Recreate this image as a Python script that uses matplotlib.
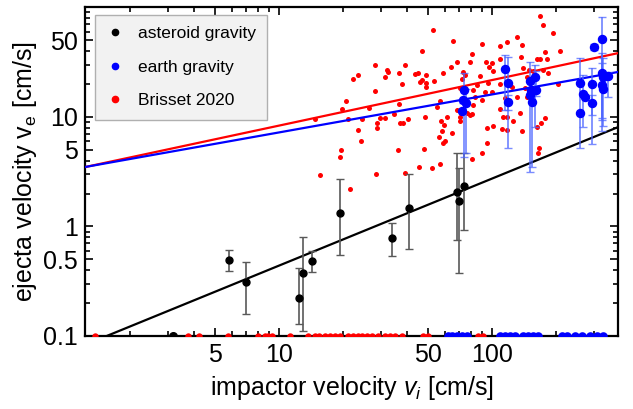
import matplotlib.pyplot as plt
from matplotlib.lines import Line2D
from matplotlib.ticker import FixedLocator, NullFormatter
import numpy as np

plt.rcParams['font.family'] = ['Liberation Sans', 'DejaVu Sans']
plt.rcParams['mathtext.fontset'] = 'custom'
plt.rcParams['mathtext.rm'] = 'Liberation Sans'
plt.rcParams['mathtext.it'] = 'Liberation Sans:italic'

# Brisset 2020 (red)
red_vi = [52.8, 46.9, 28.2, 39.1, 32.1, 32.5, 22.3, 23.5, 31.5, 36.6,
          37.8, 43.5, 45.0, 49.0, 46.9, 45.9, 49.0, 49.0, 53.4, 58.9,
          28.2, 20.6, 19.8, 26.5, 36.6, 34.7, 29.8, 31.5, 21.1, 40.4,
          48.5, 55.2, 57.0, 61.5, 64.2, 14.8, 24.5, 23.5, 24.3, 28.8,
          28.8, 37.0, 38.2, 57.6, 59.5, 58.2, 56.4, 60.1, 58.9, 19.5,
          19.3, 36.2, 48.0, 15.5, 28.5, 39.1, 45.4, 52.3, 57.0, 21.6,
          168, 174, 193, 131, 118, 109, 89.7, 138, 80.5, 65.6,
          78.8, 68.5, 93.7, 100, 96.8, 101, 109, 137, 163, 168,
          177, 181, 209, 73.1, 74.7, 85.0, 72.3, 87.8, 95.7, 92.7,
          100, 109, 124, 140, 149, 146, 156, 174, 183, 204,
          70.8, 81.5, 83.2, 89.7, 81.5, 109, 115, 131, 143, 146,
          118, 113, 135, 177, 76.3, 78.8, 70.8, 68.5, 64.9, 70.8,
          80.5, 94.7, 101, 94.7, 89.7, 80.5, 111, 118, 125, 138,
          163, 170, 166, 164]
red_ve = [62.3, 40.0, 29.8, 29.8, 26.9, 25.8, 22.2, 24.2, 23.2, 25.2,
          20.0, 24.7, 25.2, 24.2, 21.8, 20.9, 20.4, 18.8, 21.3, 25.2,
          17.3, 14.0, 11.8, 12.1, 13.1, 10.7, 9.8, 9.8, 9.6, 9.6,
          10.0, 12.3, 14.0, 10.0, 28.6, 9.6, 9.6, 7.61, 6.04, 8.8,
          7.94, 8.8, 8.8, 9.2, 8.45, 7.45, 6.57, 6.04, 5.78, 5.0,
          4.31, 5.0, 5.1, 2.95, 3.01, 3.08, 3.50, 3.43, 3.72, 2.20,
          83.6, 69.2, 58.5, 53.8, 48.4, 44.5, 46.4, 45.5, 37.6, 49.4,
          31.8, 31.8, 31.8, 31.1, 28.6, 26.3, 33.9, 35.3, 33.9, 33.9,
          39.2, 33.9, 40.0, 25.8, 24.2, 19.6, 22.2, 23.7, 20.4, 16.9,
          16.9, 20.0, 18.8, 28.0, 26.9, 23.2, 26.3, 26.9, 25.2, 20.0,
          18.4, 17.6, 15.2, 14.3, 12.9, 11.8, 14.9, 15.2, 18.4, 15.2,
          10.0, 10.0, 10.9, 9.8, 10.9, 10.4, 10.0, 11.6, 7.14, 9.2,
          10.7, 7.94, 8.27, 5.78, 4.69, 4.13, 7.77, 7.61, 9.2, 7.45,
          8.1, 8.8, 5.21, 4.69]
red_zero_vi = [1.37, 3.74, 4.21, 5.77, 7.97, 8.6, 8.88, 9.27, 11.3, 13.7,
               14.8, 15.4, 16.4, 17.4, 18.3, 19.3, 21.1, 22.3, 23.5, 24.5,
               25.9, 27.3, 29.2, 31.5, 33.2, 35.1, 37.8, 47.4, 50.1, 86.0, 90.7]

# asteroid gravity (black)
ast_vi = [5.82, 7.0, 12.4, 13.0, 14.3, 19.3, 34.0, 40.8, 68.6, 70.0, 74.0]
ast_ve = [0.494, 0.311, 0.222, 0.376, 0.484, 1.33, 0.785, 1.48, 2.07, 1.71, 2.34]
ast_lo = [0.393, 0.159, 0.129, 0.111, 0.384, 0.55, 0.54, 0.62, 0.75, 0.376, 0.93]
ast_hi = [0.61, 0.474, 0.418, 0.80, 0.597, 2.72, 1.08, 3.01, 4.69, 3.42, 4.69]
ast_zero_vi = [3.18]

# earth gravity (blue)
earth_vi = [73.9, 73.1, 75.5, 72.3, 115, 119, 119, 151, 152, 151,
            154, 159, 161, 259, 268, 273, 295, 295, 259, 301,
            329, 329, 332, 329, 332, 351]
earth_ve = [17.6, 14.3, 13.4, 11.3, 27.4, 20.4, 13.7, 21.3, 17.6, 15.9,
            13.7, 23.2, 17.6, 20.4, 16.2, 15.2, 20.0, 13.4, 10.9, 43.6,
            51.6, 25.2, 23.2, 19.6, 18.0, 23.7]
earth_lo = [4.31, 13.4, 4.69, 11.3, 11.6, 5.21, 11.6, 3.14, 17.6, 15.9,
            3.50, 8.1, 15.5, 5.21, 8.1, 15.2, 5.66, 10.4, 10.9, 41.0,
            9.8, 7.45, 8.27, 9.4, 18.0, 15.2]
earth_hi = [25.2, 14.3, 18.0, 11.3, 36.8, 35.3, 15.9, 31.8, 17.6, 15.9,
            18.4, 29.8, 26.3, 34.6, 24.2, 15.2, 28.0, 15.9, 10.9, 46.4,
            81.9, 38.4, 34.6, 31.1, 18.0, 25.8]
earth_zero_vi = [62.2, 64.9, 68.5, 72.3, 76.3, 109, 115, 121, 128, 140,
                 148, 156, 164, 213, 225, 245, 265, 288, 311, 332]

# power law fits  v_e = a * v_i**b
fit_red = (3.20, 0.416)
fit_blue = (3.25, 0.347)
fit_black = (0.0704, 0.795)

fig = plt.figure(figsize=(6.33, 4.09), dpi=100)
ax = fig.add_axes([0.1343, 0.1785, 0.8420, 0.8032])
ax.set_xscale('log')
ax.set_yscale('log')
xlim = (1.23, 390)
ax.set_xlim(xlim)
ax.set_ylim(0.1, 100)

ax.plot(red_vi, red_ve, 'o', color='red', ms=3.6, mec='none', zorder=2)
ax.plot(red_zero_vi, [0.1] * len(red_zero_vi), 'o', color='red', ms=4.6, mec='none', zorder=6)

xx = np.array(xlim)
for (a, b), c in [(fit_red, 'red'), (fit_blue, 'blue'), (fit_black, 'black')]:
    ax.plot(xx, a * xx ** b, color=c, lw=1.6, zorder=3)

ast_err = [np.array(ast_ve) - np.array(ast_lo), np.array(ast_hi) - np.array(ast_ve)]
ax.errorbar(ast_vi, ast_ve, yerr=ast_err, fmt='o', color='black', ms=5,
            ecolor=(0.35, 0.35, 0.35), elinewidth=1.2, capsize=3, capthick=1, zorder=4)
ax.plot(ast_zero_vi, [0.1], 'o', color='black', ms=5.5, zorder=6)

earth_err = [np.array(earth_ve) - np.array(earth_lo), np.array(earth_hi) - np.array(earth_ve)]
ax.errorbar(earth_vi, earth_ve, yerr=earth_err, fmt='o', color='blue', ms=5.8,
            ecolor=(0.3, 0.4, 1.0, 0.75), elinewidth=1.3, capsize=3, capthick=1, zorder=4)
ax.plot(earth_zero_vi, [0.1] * len(earth_zero_vi), 'o', color='blue', ms=6.2, mec='none', zorder=6)

ax.yaxis.set_major_locator(FixedLocator([0.1, 0.5, 1, 5, 10, 50, 100]))
ax.set_yticklabels(['0.1', '0.5', '1', '5', '10', '50', ''])
ax.yaxis.set_minor_locator(FixedLocator([0.2, 0.3, 0.4, 0.6, 0.7, 0.8, 0.9,
                                         2, 3, 4, 6, 7, 8, 9, 20, 30, 40, 60, 70, 80, 90]))
ax.yaxis.set_minor_formatter(NullFormatter())
ax.xaxis.set_major_locator(FixedLocator([5, 10, 50, 100]))
ax.set_xticklabels(['5', '10', '50', '100'])
ax.xaxis.set_minor_locator(FixedLocator([2, 3, 4, 6, 7, 8, 9, 20, 30, 40, 60, 70, 80, 90, 200, 300]))
ax.xaxis.set_minor_formatter(NullFormatter())

ax.tick_params(which='both', direction='in', top=True, right=True, width=1.2)
ax.tick_params(which='major', length=6, labelsize=18, pad=5)
ax.tick_params(which='minor', length=3.5)
for s in ax.spines.values():
    s.set_linewidth(1.6)

ax.set_xlabel('impactor velocity $v_i$ [cm/s]', fontsize=18, labelpad=5)
ax.set_ylabel('ejecta velocity v$_\\mathregular{e}$ [cm/s]', fontsize=18, labelpad=3)

handles = [Line2D([], [], ls='none', marker='o', color=c, ms=4.5) for c in ['black', 'blue', 'red']]
leg = ax.legend(handles, ['asteroid gravity', 'earth gravity', 'Brisset 2020'],
                loc='upper left', bbox_to_anchor=(0.019, 0.977), borderaxespad=0,
                fontsize=12.5, handlelength=1.0, handletextpad=0.8, labelspacing=1.05,
                fancybox=False, facecolor='#f2f2f2', edgecolor='#b0b0b0', framealpha=1,
                borderpad=0.65)
leg.set_zorder(7)

fig.savefig('out.png', dpi=100)
